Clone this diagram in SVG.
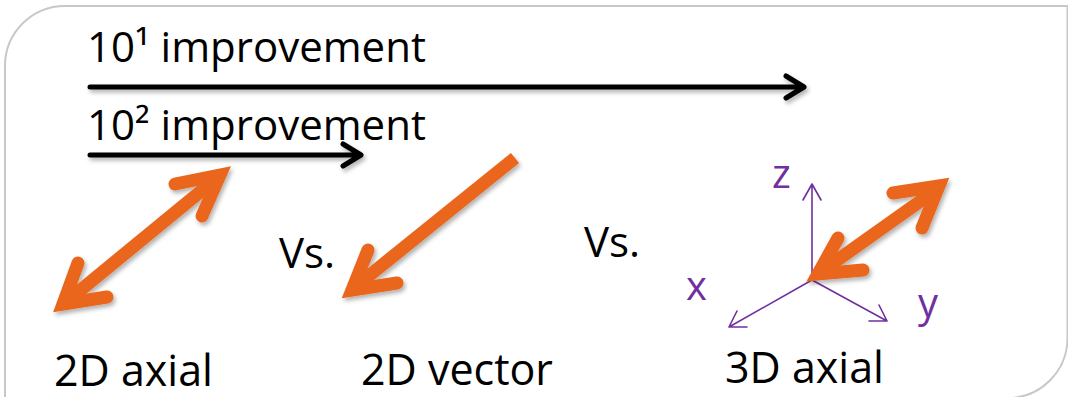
<svg xmlns="http://www.w3.org/2000/svg" width="1068" height="397" viewBox="0 0 1068 397">
  <style>
    .lbl { font-family: "Open Sans", "Liberation Sans", sans-serif; font-size: 42px; fill: #000; }
    .cap { font-size: 43px; }
    .axlbl { font-family: "Open Sans", "Liberation Sans", sans-serif; font-size: 40px; fill: #7030A0; }
    .scale { fill: none; stroke: #000; stroke-width: 5; stroke-linecap: round; stroke-linejoin: round; }
    .orange { fill: none; stroke: #E9661F; stroke-width: 13; stroke-linejoin: miter; stroke-miterlimit: 10; }
    .orange .arm { stroke-linecap: round; }
    .axis { fill: none; stroke: #7030A0; stroke-width: 1.6; stroke-linecap: round; stroke-linejoin: round; }
  </style>
  <defs>
    <filter id="shadow" x="-20%" y="-20%" width="140%" height="140%">
      <feDropShadow dx="2" dy="3" stdDeviation="2" flood-color="#000" flood-opacity="0.3"/>
    </filter>
  </defs>

  <rect width="1068" height="397" fill="#fff"/>

  <!-- frame: rectangle with rounded top-left and bottom-right corners -->
  <path id="frame" d="M5,400 V66 A60,60 0 0 1 65,6 H1067.5 V338 A60,60 0 0 1 1007.5,398 H5" fill="none" stroke="#c8c8c8" stroke-width="2"/>

  <g id="scale-labels">
    <text class="lbl" x="87" y="62">10¹ improvement</text>
    <text class="lbl" x="87" y="140">10² improvement</text>
  </g>

  <g id="connectors">
    <!-- scale bars -->
    <g filter="url(#shadow)">
      <path class="scale" d="M90,87 H804 M786,76 L804,87 L786,98"/>
      <path class="scale" d="M90,155 H361 M343,144 L361,155 L343,166"/>
    </g>
  </g>

  <g id="node-2d-axial">
    <g class="orange" filter="url(#shadow)">
      <path d="M66,302 L217,178"/>
      <path class="arm" d="M78,263 L63,304 L107,297"/>
      <path class="arm" d="M175,184 L220,175 L202,216"/>
    </g>
    <text class="lbl cap" x="54" y="386">2D axial</text>
  </g>

  <text class="lbl" x="279" y="268">Vs.</text>

  <g id="node-2d-vector">
    <g class="orange" filter="url(#shadow)">
      <path d="M515,158 L355,287"/>
      <path class="arm" d="M368,250 L352,290 L397,283"/>
    </g>
    <text class="lbl cap" x="361" y="385">2D vector</text>
  </g>

  <text class="lbl" x="584" y="257">Vs.</text>

  <g id="node-3d-axial">
    <g class="axis">
      <path d="M812,280 V184 M803,200 L812,184 L821,200"/>
      <path d="M812,280 L729,327 M747,327 L729,327 L737,311"/>
      <path d="M812,280 L887,321 M869,321 L887,321 L879,305"/>
    </g>
    <text class="axlbl" x="772" y="188">z</text>
    <text class="axlbl" x="686" y="300">x</text>
    <text class="axlbl" x="918" y="317">y</text>
    <g class="orange" filter="url(#shadow)">
      <path d="M822,271 L936,190"/>
      <path class="arm" d="M838,238 L818,274 L863,270"/>
      <path class="arm" d="M893,193 L939,186 L922,228"/>
    </g>
    <text class="lbl cap" x="725" y="383">3D axial</text>
  </g>
</svg>
